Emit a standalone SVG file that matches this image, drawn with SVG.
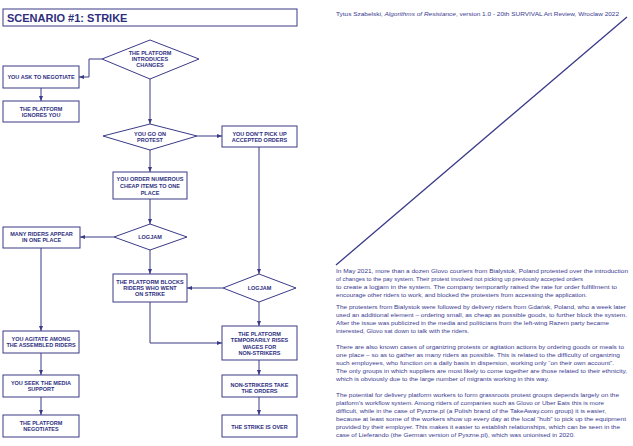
<svg xmlns="http://www.w3.org/2000/svg" width="633" height="446" viewBox="0 0 633 446">
<style>
.bg{fill:#ffffff}
.box{fill:#ffffff;stroke:#3a3a88;stroke-width:1}
.dia{fill:#ffffff;stroke:#3a3a88;stroke-width:1}
.lbl{font-family:"Liberation Sans",Arial,sans-serif;font-size:5.5px;font-weight:bold;fill:#2e2e80;text-anchor:middle}
.con{fill:none;stroke:#3a3a88;stroke-width:1}
.para{font-family:"Liberation Sans",Arial,sans-serif;font-size:6.2px;fill:#3a3a90}
.title{font-family:"Liberation Sans",Arial,sans-serif;font-size:11px;font-weight:bold;fill:#2e2e80}
</style>
<defs>
<marker id="ah" markerUnits="userSpaceOnUse" markerWidth="6" markerHeight="5" refX="5" refY="2" orient="auto">
<path d="M0,0 L5,2 L0,4 z" fill="#3a3a88"/>
</marker>
</defs>
<rect class="bg" x="0" y="0" width="633" height="446"/>

<g id="title">
<rect class="box" x="3" y="9" width="294" height="17"/>
<text class="title" x="7" y="21.5">SCENARIO #1: STRIKE</text>
</g>

<g id="citation">
<text class="para" x="336" y="15.5" textLength="283" lengthAdjust="spacingAndGlyphs">Tytus Szabelski, <tspan font-style="italic">Algorithms of Resistance</tspan>, version 1.0 - 20th SURVIVAL Art Review, Wroclaw 2022</text>
</g>

<g id="diagonal">
<line x1="336" y1="265" x2="627" y2="17" stroke="#3a3a88" stroke-width="1.3"/>
</g>

<g id="connectors">
<polyline class="con" points="102,59 89,59 89,77 79,77" marker-end="url(#ah)"/>
<line class="con" x1="41" y1="88" x2="41" y2="101" marker-end="url(#ah)"/>
<line class="con" x1="150" y1="79" x2="150" y2="124" marker-end="url(#ah)"/>
<line class="con" x1="197" y1="136" x2="222" y2="136" marker-end="url(#ah)"/>
<line class="con" x1="150" y1="150" x2="150" y2="172" marker-end="url(#ah)"/>
<line class="con" x1="150" y1="199" x2="150" y2="224" marker-end="url(#ah)"/>
<line class="con" x1="114" y1="237" x2="80" y2="237" marker-end="url(#ah)"/>
<line class="con" x1="150" y1="250" x2="150" y2="274" marker-end="url(#ah)"/>
<line class="con" x1="259" y1="147" x2="259" y2="274" marker-end="url(#ah)"/>
<line class="con" x1="223" y1="288" x2="187" y2="288" marker-end="url(#ah)"/>
<line class="con" x1="41" y1="248" x2="41" y2="331" marker-end="url(#ah)"/>
<polyline class="con" points="150,302 150,343 222,343" marker-end="url(#ah)"/>
<line class="con" x1="259" y1="302" x2="259" y2="326" marker-end="url(#ah)"/>
<line class="con" x1="41" y1="353" x2="41" y2="375" marker-end="url(#ah)"/>
<line class="con" x1="41" y1="397" x2="41" y2="415" marker-end="url(#ah)"/>
<line class="con" x1="259" y1="360" x2="259" y2="375" marker-end="url(#ah)"/>
<line class="con" x1="259" y1="397" x2="259" y2="415" marker-end="url(#ah)"/>
</g>

<g id="d-introduces">
<polygon class="dia" points="150,40 199,59 150,79 102,59"/>
<text class="lbl" x="150" y="55">THE PLATFORM</text>
<text class="lbl" x="150" y="61">INTRODUCES</text>
<text class="lbl" x="150" y="67">CHANGES</text>
</g>

<g id="n-ask">
<rect class="box" x="3" y="66" width="76" height="22"/>
<text class="lbl" x="41" y="79">YOU ASK TO NEGOTIATE</text>
</g>

<g id="n-ignores">
<rect class="box" x="3" y="101" width="76" height="21"/>
<text class="lbl" x="41" y="111">THE PLATFORM</text>
<text class="lbl" x="41" y="117">IGNORES YOU</text>
</g>

<g id="d-protest">
<polygon class="dia" points="150,124 197,136 150,150 103,136"/>
<text class="lbl" x="150" y="136">YOU GO ON</text>
<text class="lbl" x="150" y="142">PROTEST</text>
</g>

<g id="n-dontpick">
<rect class="box" x="222" y="126" width="75" height="21"/>
<text class="lbl" x="259.5" y="136">YOU DON'T PICK UP</text>
<text class="lbl" x="259.5" y="142">ACCEPTED ORDERS</text>
</g>

<g id="n-order">
<rect class="box" x="113" y="172" width="74" height="27"/>
<text class="lbl" x="150" y="181">YOU ORDER NUMEROUS</text>
<text class="lbl" x="150" y="188">CHEAP ITEMS TO ONE</text>
<text class="lbl" x="150" y="195">PLACE</text>
</g>

<g id="d-logjam1">
<polygon class="dia" points="150,224 187,237 150,250 114,237"/>
<text class="lbl" x="150" y="239">LOGJAM</text>
</g>

<g id="n-many">
<rect class="box" x="3" y="227" width="77" height="21"/>
<text class="lbl" x="41.5" y="236">MANY RIDERS APPEAR</text>
<text class="lbl" x="41.5" y="242">IN ONE PLACE</text>
</g>

<g id="n-blocks">
<rect class="box" x="113" y="274" width="74" height="28"/>
<text class="lbl" x="150" y="284">THE PLATFORM BLOCKS</text>
<text class="lbl" x="150" y="290">RIDERS WHO WENT</text>
<text class="lbl" x="150" y="296">ON STRIKE</text>
</g>

<g id="d-logjam2">
<polygon class="dia" points="259,274 296,288 259,302 223,288"/>
<text class="lbl" x="259.5" y="290">LOGJAM</text>
</g>

<g id="n-agitate">
<rect class="box" x="3" y="331" width="76" height="22"/>
<text class="lbl" x="41" y="341">YOU AGITATE AMONG</text>
<text class="lbl" x="41" y="347">THE ASSEMBLED RIDERS</text>
</g>

<g id="n-media">
<rect class="box" x="3" y="375" width="76" height="22"/>
<text class="lbl" x="41" y="385">YOU SEEK THE MEDIA</text>
<text class="lbl" x="41" y="391">SUPPORT</text>
</g>

<g id="n-negotiates">
<rect class="box" x="3" y="415" width="76" height="22"/>
<text class="lbl" x="41" y="425">THE PLATFORM</text>
<text class="lbl" x="41" y="431">NEGOTIATES</text>
</g>

<g id="n-rises">
<rect class="box" x="222" y="326" width="75" height="34"/>
<text class="lbl" x="259.5" y="336">THE PLATFORM</text>
<text class="lbl" x="259.5" y="342">TEMPORARILY RISES</text>
<text class="lbl" x="259.5" y="349">WAGES FOR</text>
<text class="lbl" x="259.5" y="355">NON-STRIKERS</text>
</g>

<g id="n-nonstrikers">
<rect class="box" x="222" y="375" width="75" height="22"/>
<text class="lbl" x="259.5" y="387">NON-STRIKERS TAKE</text>
<text class="lbl" x="259.5" y="393">THE ORDERS</text>
</g>

<g id="n-over">
<rect class="box" x="222" y="415" width="75" height="22"/>
<text class="lbl" x="259.5" y="429">THE STRIKE IS OVER</text>
</g>

<g id="text-block">
<text class="para" x="336" y="273" textLength="292" lengthAdjust="spacingAndGlyphs">In May 2021, more than a dozen Glovo couriers from Bialystok, Poland protested over the introduction</text>
<text class="para" x="336" y="281" textLength="247" lengthAdjust="spacingAndGlyphs">of changes to the pay system. Their protest involved not picking up previously accepted orders</text>
<text class="para" x="336" y="289" textLength="281" lengthAdjust="spacingAndGlyphs">to create a logjam in the system. The company temporarily raised the rate for order fulfillment to</text>
<text class="para" x="336" y="297" textLength="251" lengthAdjust="spacingAndGlyphs">encourage other riders to work, and blocked the protesters from accessing the application.</text>

<text class="para" x="336" y="309" textLength="290" lengthAdjust="spacingAndGlyphs">The protesters from Bialystok were followed by delivery riders from Gdańsk, Poland, who a week later</text>
<text class="para" x="336" y="317" textLength="291" lengthAdjust="spacingAndGlyphs">used an additional element – ordering small, as cheap as possible goods, to further block the system.</text>
<text class="para" x="336" y="325" textLength="273" lengthAdjust="spacingAndGlyphs">After the issue was publicized in the media and politicians from the left-wing Razem party became</text>
<text class="para" x="336" y="333" textLength="133" lengthAdjust="spacingAndGlyphs">interested, Glovo sat down to talk with the riders.</text>

<text class="para" x="336" y="349" textLength="288" lengthAdjust="spacingAndGlyphs">There are also known cases of organizing protests or agitation actions by ordering goods or meals to</text>
<text class="para" x="336" y="357" textLength="284" lengthAdjust="spacingAndGlyphs">one place – so as to gather as many riders as possible. This is related to the difficulty of organizing</text>
<text class="para" x="336" y="365" textLength="278" lengthAdjust="spacingAndGlyphs">such employees, who function on a daily basis in dispersion, working only “on their own account”.</text>
<text class="para" x="336" y="373" textLength="291" lengthAdjust="spacingAndGlyphs">The only groups in which suppliers are most likely to come together are those related to their ethnicity,</text>
<text class="para" x="336" y="381" textLength="213" lengthAdjust="spacingAndGlyphs">which is obviously due to the large number of migrants working in this way.</text>

<text class="para" x="336" y="397" textLength="283" lengthAdjust="spacingAndGlyphs">The potential for delivery platform workers to form grassroots protest groups depends largely on the</text>
<text class="para" x="336" y="405" textLength="268" lengthAdjust="spacingAndGlyphs">platform's workflow system. Among riders of companies such as Glovo or Uber Eats this is more</text>
<text class="para" x="336" y="413" textLength="270" lengthAdjust="spacingAndGlyphs">difficult, while in the case of Pyszne.pl (a Polish brand of the TakeAway.com group) it is easier,</text>
<text class="para" x="336" y="421" textLength="290" lengthAdjust="spacingAndGlyphs">because at least some of the workers show up every day at the local “hub” to pick up the equipment</text>
<text class="para" x="336" y="429" textLength="284" lengthAdjust="spacingAndGlyphs">provided by their employer. This makes it easier to establish relationships, which can be seen in the</text>
<text class="para" x="336" y="437" textLength="239" lengthAdjust="spacingAndGlyphs">case of Lieferando (the German version of Pyszne.pl), which was unionised in 2020.</text>
</g>
</svg>
